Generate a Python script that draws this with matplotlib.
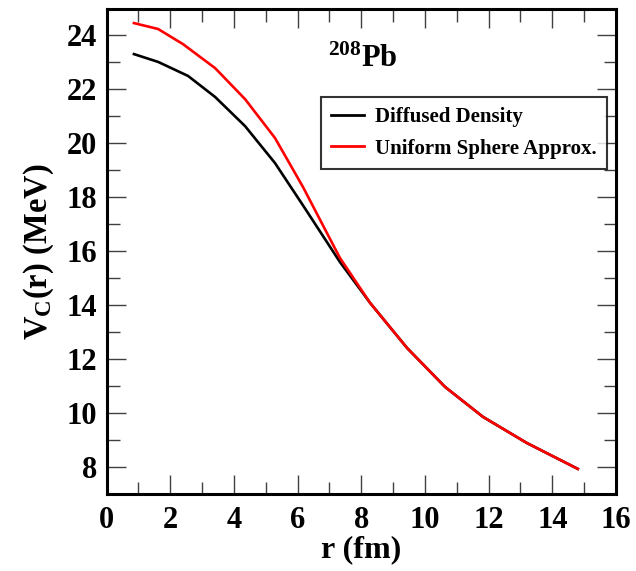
import numpy as np
import matplotlib
matplotlib.use("Agg")
import matplotlib.pyplot as plt
from matplotlib.ticker import MultipleLocator

plt.rcParams['font.family'] = 'Liberation Serif'
plt.rcParams['font.weight'] = 'bold'
plt.rcParams['axes.labelweight'] = 'bold'
plt.rcParams['mathtext.fontset'] = 'custom'
plt.rcParams['mathtext.rm'] = 'Liberation Serif:bold'
plt.rcParams['mathtext.it'] = 'Liberation Serif:bold'
plt.rcParams['mathtext.bf'] = 'Liberation Serif:bold'

# values
r_diff = [0.86, 1.62, 2.56, 3.41, 4.35, 5.29, 6.17, 7.33, 8.28, 9.44, 10.63, 11.82, 13.2, 14.8]
v_diff = [23.31, 23.02, 22.50, 21.72, 20.64, 19.27, 17.70, 15.60, 14.08, 12.41, 10.97, 9.86, 8.89, 7.93]
r_unif = [0.86, 1.62, 2.40, 3.41, 4.35, 5.29, 6.17, 7.33, 8.28, 9.44, 10.63, 11.82, 13.2, 14.8]
v_unif = [24.46, 24.24, 23.68, 22.79, 21.64, 20.20, 18.38, 15.75, 14.08, 12.41, 10.97, 9.86, 8.89, 7.93]

fig = plt.figure(figsize=(6.36, 5.71), dpi=100)
ax = fig.add_axes([0.1675, 0.1349, 0.8011, 0.8502])

ax.plot(r_diff, v_diff, color='black', lw=1.9, label='Diffused Density')
ax.plot(r_unif, v_unif, color='red', lw=1.9, label='Uniform Sphere Approx.')

ax.set_xlim(0, 16)
ax.set_ylim(7, 25)
ax.xaxis.set_major_locator(MultipleLocator(2))
ax.xaxis.set_minor_locator(MultipleLocator(1))
ax.yaxis.set_major_locator(MultipleLocator(2))
ax.yaxis.set_minor_locator(MultipleLocator(1))
ax.tick_params(which='both', direction='in', top=True, right=True,
               color='0.25', width=1.0, labelsize=22)
ax.tick_params(which='major', length=14)
ax.tick_params(which='minor', length=9)
ax.tick_params(axis='x', which='major', pad=9)
ax.tick_params(axis='y', which='major', pad=7)
for s in ax.spines.values():
    s.set_linewidth(2.2)

ax.set_xlabel('r (fm)', fontsize=23, labelpad=0)
ax.set_ylabel(r'$\mathrm{V_C}$(r) (MeV)', fontsize=23.5, labelpad=7)

ax.text(8.05, 23.1, r'$^{208}$Pb', fontsize=22, ha='center', va='center')

leg = ax.legend(loc='upper left', bbox_to_anchor=(0.421, 0.818), fontsize=15,
                frameon=True, fancybox=False, edgecolor='black', borderaxespad=0,
                handlelength=1.55, handletextpad=0.55, borderpad=0.5,
                labelspacing=0.55)
leg.get_frame().set_linewidth(1.5)
for line in leg.get_lines():
    line.set_linewidth(2.0)

fig.savefig('out.png', dpi=100)
